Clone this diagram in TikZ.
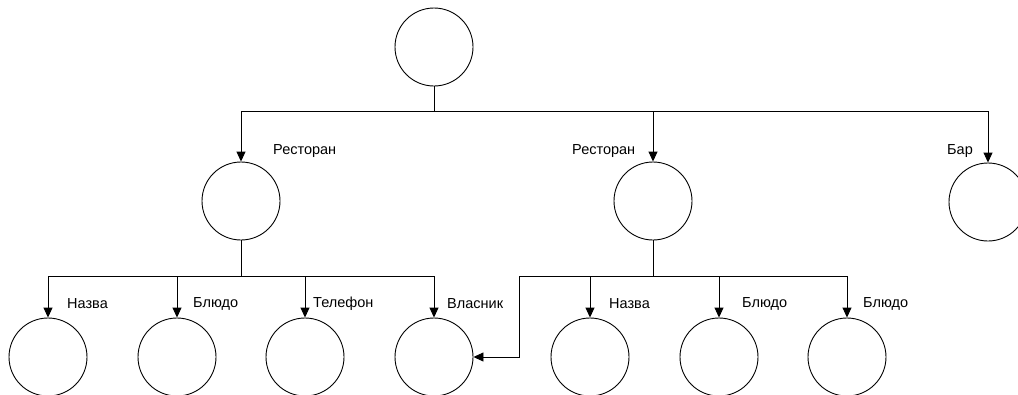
\documentclass[tikz,border=0pt]{standalone}
\usepackage{fontspec}
\setmainfont{Liberation Sans}
\usetikzlibrary{arrows.meta}
\begin{document}
\begin{tikzpicture}[x=1pt,y=-1pt,
  ent/.style={draw=black, line width=0.9pt, circle, minimum size=78pt, inner sep=0pt},
  conn/.style={draw=black, line width=0.9pt},
  arr/.style={conn, -{Triangle[length=10pt,width=9pt]}},
  lbl/.style={font=\fontsize{14.5}{17}\selectfont, inner sep=0pt, anchor=west}]
\useasboundingbox (0,0) rectangle (1018,394);
% entities
\node[ent] (top) at (434,47) {};
\node[ent] (r1) at (241,201) {};
\node[ent] (r2) at (653,201) {};
\node[ent] (bar) at (988,202) {};
\node[ent] (a1) at (48,357) {};
\node[ent] (a2) at (177,357) {};
\node[ent] (a3) at (305,357) {};
\node[ent] (a4) at (434,357) {};
\node[ent] (b1) at (590,357) {};
\node[ent] (b2) at (719,357) {};
\node[ent] (b3) at (847,357) {};
% junctions
\coordinate (j0) at (434,111);
\coordinate (j1) at (241,276);
\coordinate (j2) at (653,276);
\coordinate (k) at (519,276);
% top level
\draw[conn] (top) -- (j0);
\draw[arr] (j0) -| (r1);
\draw[arr] (j0) -| (r2);
\draw[arr] (j0) -| (bar);
% left group
\draw[conn] (r1) -- (j1);
\draw[arr] (j1) -| (a1);
\draw[arr] (j1) -| (a2);
\draw[arr] (j1) -| (a3);
\draw[arr] (j1) -| (a4);
% right group
\draw[conn] (r2) -- (j2);
\draw[conn] (j2) -- (k);
\draw[arr] (k) |- (a4);
\draw[arr] (j2) -| (b1);
\draw[arr] (j2) -| (b2);
\draw[arr] (j2) -| (b3);
% labels
\node[lbl] (l1) at (273,151) {Ресторан};
\node[lbl] (l2) at (572,151) {Ресторан};
\node[lbl] (l3) at (947,151) {Бар};
\node[lbl] (l4) at (67,304) {Назва};
\node[lbl] (l5) at (193,304) {Блюдо};
\node[lbl] (l6) at (313,304) {Телефон};
\node[lbl] (l7) at (447,304) {Власник};
\node[lbl] (l8) at (609,304) {Назва};
\node[lbl] (l9) at (742,304) {Блюдо};
\node[lbl] (l10) at (863,304) {Блюдо};
\end{tikzpicture}
\end{document}
